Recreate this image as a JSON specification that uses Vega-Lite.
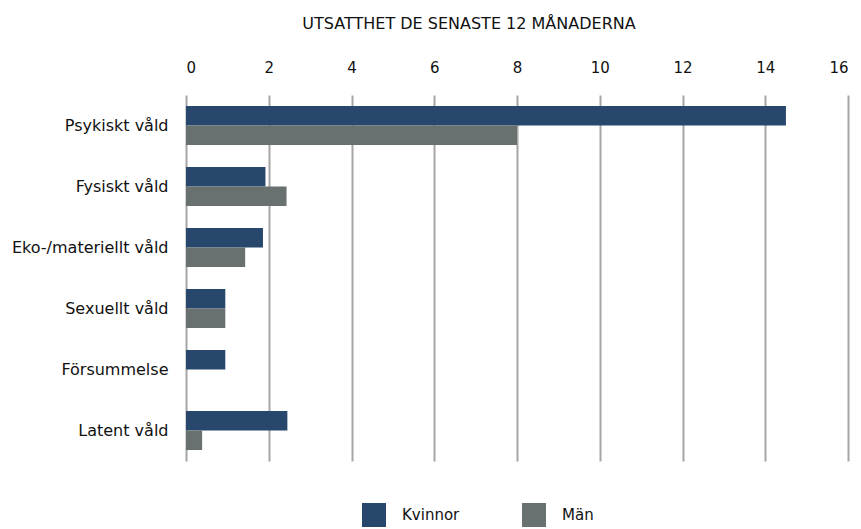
{
  "$schema": "https://vega.github.io/schema/vega-lite/v6.json",
  "width": 662,
  "height": 366,
  "autosize": {"type": "none"},
  "padding": {"left": 186, "top": 95, "right": 13, "bottom": 68},
  "background": "white",
  "config": {
    "font": "DejaVu Sans",
    "view": {"stroke": null}
  },
  "title": {
    "text": "UTSATTHET DE SENASTE 12 MÅNADERNA",
    "anchor": "middle",
    "dx": -48,
    "fontSize": 16,
    "fontWeight": "normal",
    "color": "#111111",
    "offset": 28
  },
  "data": {
    "values": [
      {"kategori": "Psykiskt våld", "kon": "Kvinnor", "andel": 14.5},
      {"kategori": "Psykiskt våld", "kon": "Män", "andel": 8.0},
      {"kategori": "Fysiskt våld", "kon": "Kvinnor", "andel": 1.92},
      {"kategori": "Fysiskt våld", "kon": "Män", "andel": 2.43},
      {"kategori": "Eko-/materiellt våld", "kon": "Kvinnor", "andel": 1.86},
      {"kategori": "Eko-/materiellt våld", "kon": "Män", "andel": 1.43},
      {"kategori": "Sexuellt våld", "kon": "Kvinnor", "andel": 0.95},
      {"kategori": "Sexuellt våld", "kon": "Män", "andel": 0.95},
      {"kategori": "Försummelse", "kon": "Kvinnor", "andel": 0.95},
      {"kategori": "Försummelse", "kon": "Män", "andel": 0},
      {"kategori": "Latent våld", "kon": "Kvinnor", "andel": 2.45},
      {"kategori": "Latent våld", "kon": "Män", "andel": 0.39}
    ]
  },
  "mark": {"type": "bar"},
  "encoding": {
    "y": {
      "field": "kategori",
      "type": "nominal",
      "sort": ["Psykiskt våld", "Fysiskt våld", "Eko-/materiellt våld", "Sexuellt våld", "Försummelse", "Latent våld"],
      "scale": {"paddingInner": 0.36, "paddingOuter": 0.18},
      "axis": {
        "title": null,
        "ticks": false,
        "domain": false,
        "labelPadding": 18,
        "labelFontSize": 16,
        "labelColor": "#111111",
        "labelLimit": 300
      }
    },
    "yOffset": {"field": "kon", "sort": ["Kvinnor", "Män"]},
    "x": {
      "field": "andel",
      "type": "quantitative",
      "scale": {"domain": [0, 16], "nice": false},
      "axis": {
        "orient": "top",
        "title": null,
        "values": [0, 2, 4, 6, 8, 10, 12, 14, 16],
        "ticks": false,
        "domain": false,
        "labelPadding": 20,
        "labelFontSize": 15,
        "labelColor": "#111111",
        "grid": true,
        "gridColor": "#a5a5a5",
        "gridWidth": 2
      }
    },
    "color": {
      "field": "kon",
      "type": "nominal",
      "scale": {"domain": ["Kvinnor", "Män"], "range": ["#27486c", "#687070"]},
      "legend": {
        "title": null,
        "orient": "none",
        "direction": "horizontal",
        "legendX": 176,
        "legendY": 408,
        "symbolType": "square",
        "symbolSize": 576,
        "symbolStrokeWidth": 0,
        "symbolOpacity": 1,
        "labelFontSize": 15,
        "labelColor": "#111111",
        "labelOffset": 16,
        "columnPadding": 62
      }
    }
  }
}
